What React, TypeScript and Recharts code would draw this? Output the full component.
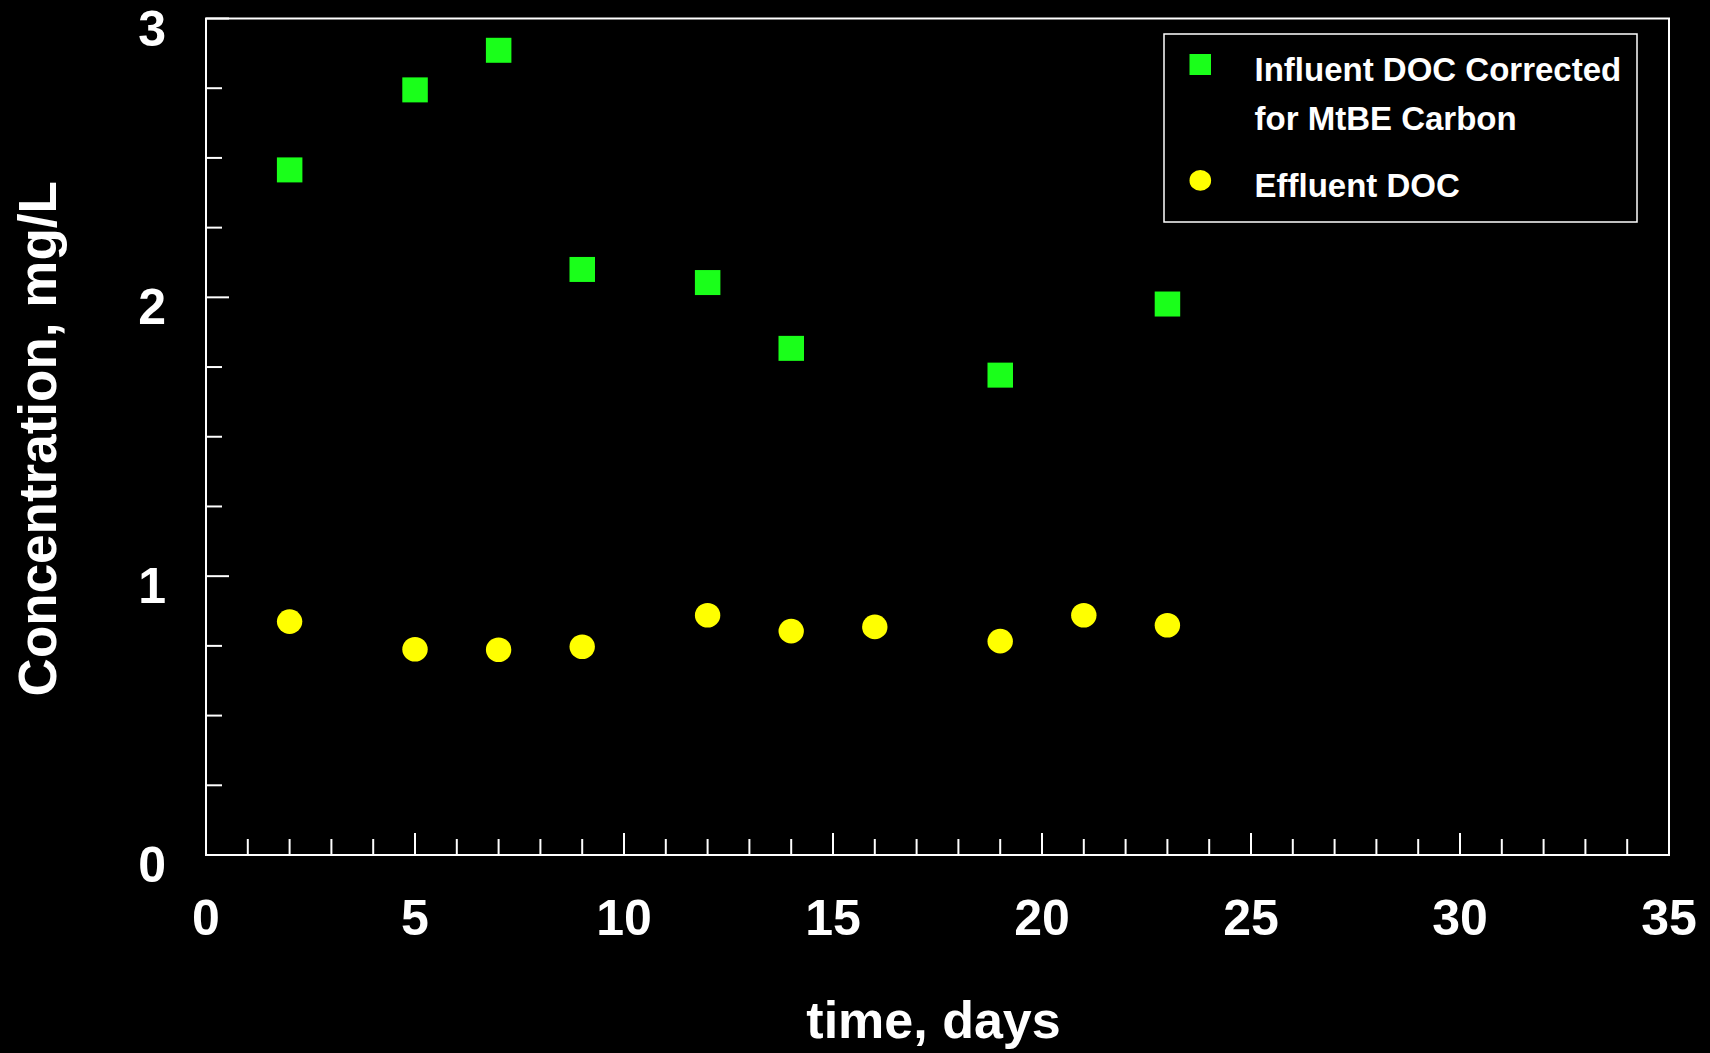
import React from "react";
import {
  ScatterChart,
  Scatter,
  XAxis,
  YAxis,
  ReferenceArea,
  Legend,
} from "recharts";

// days sampled and DOC readings (mg/L)
const influentDays = [2, 5, 7, 9, 12, 14, 19, 23];
const influentDoc = [2.457, 2.744, 2.886, 2.1, 2.053, 1.817, 1.721, 1.976];
const effluentDays = [2, 5, 7, 9, 12, 14, 16, 19, 21, 23];
const effluentDoc = [0.837, 0.738, 0.736, 0.747, 0.86, 0.803, 0.818, 0.767, 0.86, 0.824];

const xTicks = Array.from({ length: 36 }, (_, i) => i);
const yTicks = [0, 0.25, 0.5, 0.75, 1, 1.25, 1.5, 1.75, 2, 2.25, 2.5, 2.75, 3];

const influentData = influentDays.map((d, i) => ({ day: d, doc: influentDoc[i] }));
const effluentData = effluentDays.map((d, i) => ({ day: d, doc: effluentDoc[i] }));

const GREEN = "#1aff1a";
const YELLOW = "#ffff00";
const FONT = "'Liberation Sans', Arial, sans-serif";

const SquareDot = (props: any) => {
  const { cx, cy } = props;
  if (cx == null || cy == null) return null;
  return <rect x={cx - 12.7} y={cy - 12.5} width={25.5} height={25} fill={GREEN} />;
};

const RoundDot = (props: any) => {
  const { cx, cy } = props;
  if (cx == null || cy == null) return null;
  return <ellipse cx={cx} cy={cy} rx={12.7} ry={12.3} fill={YELLOW} />;
};

// axis sits 1px wide/tall (zero-size axes are not drawn), so ticks start at the axis line
const XTick = (props: any) => {
  const { x, y, payload } = props;
  const v = payload.value;
  const major = v % 5 === 0;
  return (
    <g>
      <line x1={x} x2={x} y1={y} y2={y - (major ? 22 : 16)} stroke="#fff" strokeWidth={2} />
      {major && (
        <text
          x={x}
          y={y + 63}
          textAnchor="middle"
          dominantBaseline="central"
          fill="#fff"
          fontFamily={FONT}
          fontWeight="bold"
          fontSize={50}
        >
          {v}
        </text>
      )}
    </g>
  );
};

const YTick = (props: any) => {
  const { x, y, payload } = props;
  const v = payload.value;
  const major = Number.isInteger(v);
  return (
    <g>
      <line x1={x} x2={x + (major ? 23 : 16)} y1={y} y2={y} stroke="#fff" strokeWidth={2} />
      {major && (
        <text
          x={x - 40}
          y={y + 10}
          textAnchor="end"
          dominantBaseline="central"
          fill="#fff"
          fontFamily={FONT}
          fontWeight="bold"
          fontSize={50}
        >
          {v}
        </text>
      )}
    </g>
  );
};

const XTitle = (props: any) => {
  const { viewBox } = props;
  return (
    <text
      x={viewBox.x + viewBox.width / 2 - 4}
      y={viewBox.y + 183}
      textAnchor="middle"
      fill="#fff"
      fontFamily={FONT}
      fontWeight="bold"
      fontSize={52}
    >
      time, days
    </text>
  );
};

const YTitle = (props: any) => {
  const { viewBox } = props;
  const x = viewBox.x + viewBox.width - 150;
  const y = viewBox.y + viewBox.height / 2 + 2;
  return (
    <text
      x={x}
      y={y}
      transform={`rotate(-90 ${x} ${y})`}
      textAnchor="middle"
      fill="#fff"
      fontFamily={FONT}
      fontWeight="bold"
      fontSize={53}
    >
      Concentration, mg/L
    </text>
  );
};

const LegendBox = () => (
  <svg width={475} height={190} style={{ display: "block" }}>
    <rect x={1} y={1} width={473} height={188} fill="none" stroke="#fff" strokeWidth={1.5} />
    <rect x={26.5} y={21} width={21.5} height={21} fill={GREEN} />
    <ellipse cx={37.3} cy={147.4} rx={10.8} ry={10.4} fill={YELLOW} />
    <g fill="#fff" fontFamily={FONT} fontWeight="bold" fontSize={33}>
      <text x={91.5} y={48}>Influent DOC Corrected</text>
      <text x={91.5} y={97}>for MtBE Carbon</text>
      <text x={91.5} y={163.7}>Effluent DOC</text>
    </g>
  </svg>
);

export default function App() {
  return (
    <div
      style={{
        position: "absolute",
        left: 0,
        top: 0,
        width: 1710,
        height: 1053,
        background: "#000",
      }}
    >
      <ScatterChart
        width={1710}
        height={1053}
        margin={{ top: 18.5, right: 41, bottom: 197, left: 205 }}
      >
        <XAxis
          type="number"
          dataKey="day"
          domain={[0, 35]}
          ticks={xTicks}
          interval={0}
          height={1}
          tickSize={0}
          tickMargin={0}
          tickLine={false}
          axisLine={{ stroke: "#fff", strokeWidth: 2 }}
          tick={<XTick />}
          label={{ content: (p: any) => <XTitle {...p} /> }}
        />
        <YAxis
          type="number"
          dataKey="doc"
          domain={[0, 3]}
          ticks={yTicks}
          interval={0}
          width={1}
          tickSize={0}
          tickMargin={0}
          tickLine={false}
          axisLine={{ stroke: "#fff", strokeWidth: 2 }}
          tick={<YTick />}
          label={{ content: (p: any) => <YTitle {...p} /> }}
        />
        <ReferenceArea
          x1={0}
          x2={35}
          y1={0}
          y2={3}
          fill="none"
          fillOpacity={0}
          stroke="#fff"
          strokeWidth={2}
        />
        <Scatter
          name="Influent DOC Corrected for MtBE Carbon"
          data={influentData}
          fill={GREEN}
          shape={<SquareDot />}
          isAnimationActive={false}
        />
        <Scatter
          name="Effluent DOC"
          data={effluentData}
          fill={YELLOW}
          shape={<RoundDot />}
          isAnimationActive={false}
        />
        <Legend
          layout="vertical"
          align="center"
          verticalAlign="middle"
          content={() => <LegendBox />}
          wrapperStyle={{ left: 1163, top: 33, width: 475, height: 190 }}
        />
      </ScatterChart>
    </div>
  );
}
